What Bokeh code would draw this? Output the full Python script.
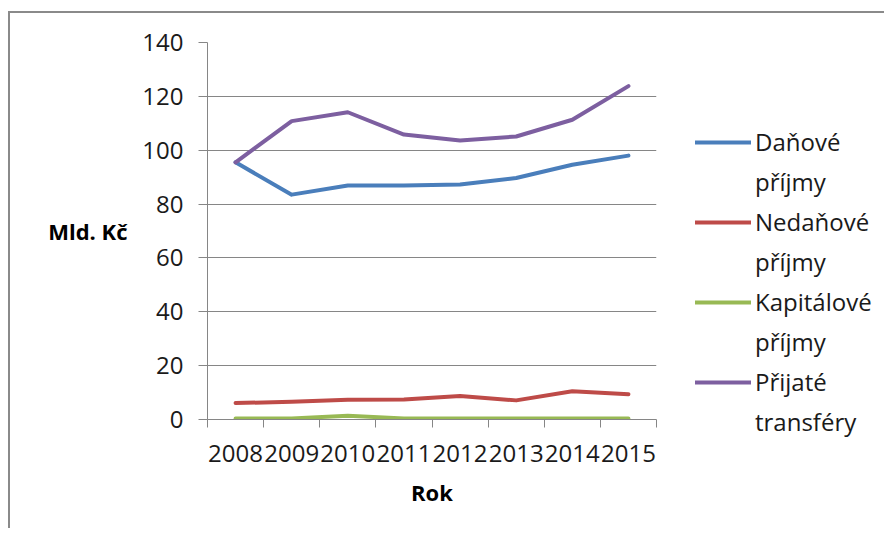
from bokeh.plotting import figure
from bokeh.models import (Range1d, FixedTicker, Legend, LegendItem, LinearAxis)
from bokeh.embed import file_html
from bokeh.resources import INLINE

years = ["2008", "2009", "2010", "2011", "2012", "2013", "2014", "2015"]
danove = [95.5, 83.5, 86.9, 86.9, 87.3, 89.7, 94.6, 98.0]
nedanove = [6.1, 6.6, 7.3, 7.4, 8.7, 7.1, 10.5, 9.4]
kapitalove = [0.4, 0.4, 1.4, 0.4, 0.4, 0.4, 0.4, 0.4]
transfery = [95.5, 110.8, 114.1, 105.8, 103.6, 105.1, 111.3, 123.8]

series_names = ["Daňové\npříjmy", "Nedaňové\npříjmy", "Kapitálové\npříjmy", "Přijaté\ntransféry"]
series_values = [danove, nedanove, kapitalove, transfery]
colors = ["#4A7EBB", "#BE4B48", "#98B954", "#7D5FA0"]

y_ticks = [0, 20, 40, 60, 80, 100, 120, 140]
y_title = "Mld. Kč"
x_title = "Rok"

FONT = "Open Sans"
GRID = "#868686"

xs = list(range(1, len(years) + 1))
y_lo, y_hi = y_ticks[0], y_ticks[-1]

p = figure(frame_width=449, frame_height=377, output_backend="svg", toolbar_location=None,
           x_range=Range1d(0.5, len(years) + 0.5), y_range=Range1d(y_lo, y_hi),
           min_border_left=197, min_border_right=220, min_border_top=29,
           min_border_bottom=109)
p.styles = {"border-left": "2px solid #8a8a8a", "border-top": "2px solid #8a8a8a",
            "margin-top": "11px", "margin-left": "8px"}
p.outline_line_color = None
p.background_fill_color = "white"

renderers = []
for vals, c in zip(series_values, colors):
    r = p.line(xs, vals, line_color=c, line_width=4, line_join="round", line_cap="round")
    renderers.append(r)

# axes
p.xaxis.ticker = FixedTicker(ticks=xs, minor_ticks=[x - 0.5 for x in xs] + [xs[-1] + 0.5])
p.xaxis.major_label_overrides = {x: y for x, y in zip(xs, years)}
p.xaxis.major_tick_line_color = None
p.xaxis.minor_tick_line_color = GRID
p.xaxis.minor_tick_out = 8
p.xaxis.minor_tick_in = 0
p.xaxis.axis_line_color = GRID
p.xaxis.major_label_text_font = FONT
p.xaxis.major_label_text_font_size = "24px"
p.xaxis.major_label_text_color = "#1a1a1a"
p.xaxis.major_label_standoff = 17
p.xaxis.axis_label = x_title
p.xaxis.axis_label_text_font = FONT
p.xaxis.axis_label_text_font_size = "22px"
p.xaxis.axis_label_text_font_style = "bold"
p.xaxis.axis_label_text_color = "#000000"
p.xaxis.axis_label_standoff = 12

p.yaxis.ticker = FixedTicker(ticks=y_ticks)
p.yaxis.major_tick_out = 9
p.yaxis.major_tick_in = 0
p.yaxis.minor_tick_line_color = None
p.yaxis.major_tick_line_color = GRID
p.yaxis.axis_line_color = GRID
p.yaxis.major_label_text_font = FONT
p.yaxis.major_label_text_font_size = "24px"
p.yaxis.major_label_text_color = "#1a1a1a"
p.yaxis.major_label_standoff = 15

p.xgrid.grid_line_color = None
p.ygrid.grid_line_color = GRID
p.ygrid.grid_line_width = 1
p.ygrid.ticker = FixedTicker(ticks=y_ticks)

# horizontal y-axis title: an outer axis with a single label at mid-height
mid = (y_lo + y_hi) / 2
title_axis = LinearAxis(ticker=FixedTicker(ticks=[mid]),
                        major_label_overrides={mid: y_title},
                        axis_line_color=None, major_tick_line_color=None,
                        minor_tick_line_color=None, major_label_standoff=6,
                        major_label_text_font=FONT, major_label_text_font_size="22px",
                        major_label_text_font_style="bold", major_label_text_color="#000000")
p.add_layout(title_axis, "left")

# legend: first line of each label next to its swatch, second line below it
blank = p.line(xs, danove, line_alpha=0)
items = []
for name, r in zip(series_names, renderers):
    first, second = name.split("\n")
    items.append(LegendItem(label=first, renderers=[r]))
    items.append(LegendItem(label=second, renderers=[blank]))
legend = Legend(items=items, location=(39, -19), orientation="vertical",
                label_text_font=FONT, label_text_font_size="24px",
                label_text_color="#1a1a1a",
                glyph_width=56, glyph_height=24, label_standoff=4, spacing=7,
                padding=0, margin=0, border_line_color=None,
                background_fill_alpha=0)
p.add_layout(legend, "right")

open("out.html", "w").write(file_html(p, INLINE))
